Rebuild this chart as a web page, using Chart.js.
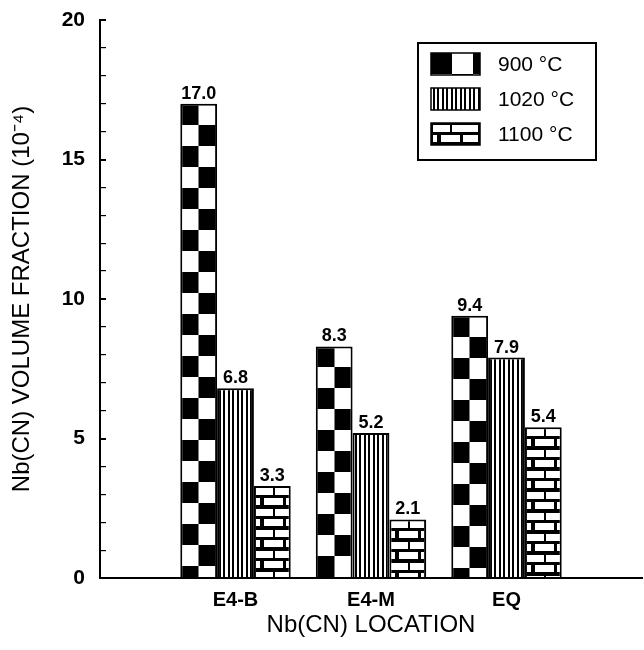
<!DOCTYPE html>
<html>
<head>
<meta charset="utf-8">
<script src="https://cdn.jsdelivr.net/npm/chart.js@4"></script>
<style>
  html, body { margin: 0; padding: 0; background: #fff; }
  #wrap { width: 644px; height: 650px; }
</style>
</head>
<body>
<div id="wrap"><canvas id="chart" width="644" height="650"></canvas></div>
<script>
const locations = ["E4-B", "E4-M", "EQ"];
const temperatures = ["900 °C", "1020 °C", "1100 °C"];
const values900 = [17.0, 8.3, 9.4];
const values1020 = [6.8, 5.2, 7.9];
const values1100 = [3.3, 2.1, 5.4];
const yTicks = [0, 5, 10, 15, 20];
const fills = ["checker", "stripes", "brick"];

const FONT = "'Liberation Sans', Arial, Helvetica, sans-serif";

// hatch tiles, anchored on the top-left corner of each bar
function makePattern(ctx, kind, width, x0, y0, cell) {
  const tile = document.createElement("canvas");
  const t = tile.getContext("2d");
  if (kind === "checker") {
    const w = Math.round(cell * 2);
    const half = w / 2;
    tile.width = w;
    tile.height = 42;
    t.fillStyle = "#fff";
    t.fillRect(0, 0, w, 42);
    t.fillStyle = "#000";
    t.fillRect(0, 0, half, 21);
    t.fillRect(half, 21, w - half, 21);
  } else if (kind === "stripes") {
    tile.width = 9;
    tile.height = 2;
    t.fillStyle = "#fff";
    t.fillRect(0, 0, 9, 2);
    t.fillStyle = "#000";
    t.fillRect(2, 0, 2, 2);
    t.fillRect(6, 0, 2, 2);
  } else {
    const w = Math.round(width);
    tile.width = w;
    tile.height = 21;
    t.fillStyle = "#000";
    t.fillRect(0, 0, w, 21);
    t.fillStyle = "#fff";
    t.fillRect(2, 2, 17, 7);
    t.fillRect(21, 2, w - 23, 7);
    t.fillRect(2, 12, 4, 7);
    t.fillRect(10, 12, 19, 7);
    t.fillRect(32, 12, w - 34, 7);
  }
  const pattern = ctx.createPattern(tile, "repeat");
  pattern.setTransform(new DOMMatrix([1, 0, 0, 1, Math.round(x0), Math.round(y0)]));
  return pattern;
}

const barPatterns = {
  id: "barPatterns",
  beforeDatasetsDraw(chart) {
    chart.data.datasets.forEach((ds, i) => {
      chart.getDatasetMeta(i).data.forEach((bar, j) => {
        if (ds.data[j] === null) return;
        const left = bar.x - bar.width / 2;
        const fill = makePattern(chart.ctx, fills[i], bar.width, left, bar.y, bar.width / 2);
        bar.options = Object.assign({}, bar.options, { backgroundColor: fill });
      });
    });
  },
};

const valueLabels = {
  id: "valueLabels",
  afterDatasetsDraw(chart) {
    const ctx = chart.ctx;
    ctx.save();
    ctx.fillStyle = "#000";
    ctx.font = `bold 18px ${FONT}`;
    ctx.textAlign = "center";
    ctx.textBaseline = "bottom";
    chart.data.datasets.forEach((ds, i) => {
      chart.getDatasetMeta(i).data.forEach((bar, j) => {
        const v = ds.data[j];
        if (v === null) return;
        ctx.fillText(v.toFixed(1), bar.x, bar.y - 1);
      });
    });
    ctx.restore();
  },
};

const legendBox = {
  id: "legendBox",
  afterDraw(chart) {
    const ctx = chart.ctx;
    const area = chart.chartArea;
    const left = area.right - 224;
    const top = area.top + 23;
    ctx.save();
    ctx.strokeStyle = "#000";
    ctx.lineWidth = 2;
    ctx.strokeRect(left, top, 178, 117);
    ctx.font = `21px ${FONT}`;
    ctx.textBaseline = "middle";
    chart.data.datasets.forEach((ds, i) => {
      const cy = top + 21 + i * 35;
      const sx = left + 13;
      const sy = cy - 11;
      ctx.fillStyle = makePattern(ctx, fills[i], 49, sx, sy, 21);
      ctx.fillRect(sx, sy, 49, 22);
      ctx.lineWidth = 1.5;
      ctx.strokeRect(sx, sy, 49, 22);
      ctx.fillStyle = "#000";
      ctx.fillText(ds.label, left + 80, cy + 1);
    });
    ctx.restore();
  },
};

function bars(label, values) {
  return {
    label: label,
    data: [null, ...values, null],
    backgroundColor: "#fff",
    borderColor: "#000",
    borderWidth: 2,
    categoryPercentage: 0.815,
    barPercentage: 1.0,
  };
}

new Chart(document.getElementById("chart"), {
  type: "bar",
  data: {
    labels: ["", ...locations, ""],
    datasets: [
      bars(temperatures[0], values900),
      bars(temperatures[1], values1020),
      bars(temperatures[2], values1100),
    ],
  },
  options: {
    responsive: false,
    animation: false,
    layout: { padding: { top: 20, right: -4, left: 0, bottom: 0 } },
    plugins: { legend: { display: false }, tooltip: { enabled: false } },
    scales: {
      x: {
        offset: false,
        grid: { display: false },
        border: { color: "#000", width: 2 },
        ticks: { color: "#000", font: { family: FONT, size: 20, weight: "bold" }, padding: 2, maxRotation: 0, autoSkip: false },
        title: { display: true, text: "Nb(CN) LOCATION", color: "#000", font: { family: FONT, size: 24 }, padding: { top: 0, bottom: 10 } },
        afterFit: (scale) => { scale.height = 72; },
      },
      y: {
        min: 0,
        max: 20,
        ticks: {
          stepSize: 1,
          autoSkip: false,
          color: "#000",
          font: { family: FONT, size: 21, weight: "bold" },
          padding: 21,
          callback: (v) => (yTicks.includes(v) ? v : ""),
        },
        grid: {
          drawOnChartArea: false,
          tickLength: -6,
          color: "#000",
          lineWidth: (ctx) => (ctx.tick && ctx.tick.value % 5 === 0 ? 2 : 1.2),
        },
        border: { color: "#000", width: 2 },
        title: { display: true, text: "Nb(CN) VOLUME FRACTION (10⁻⁴)", color: "#000", font: { family: FONT, size: 24 }, padding: { top: 8, bottom: 0 } },
        afterFit: (scale) => {
          scale.width = 100;
          scale.paddingTop = 10;
          scale.paddingBottom = 0;
        },
      },
    },
  },
  plugins: [barPatterns, valueLabels, legendBox],
});
</script>
</body>
</html>
